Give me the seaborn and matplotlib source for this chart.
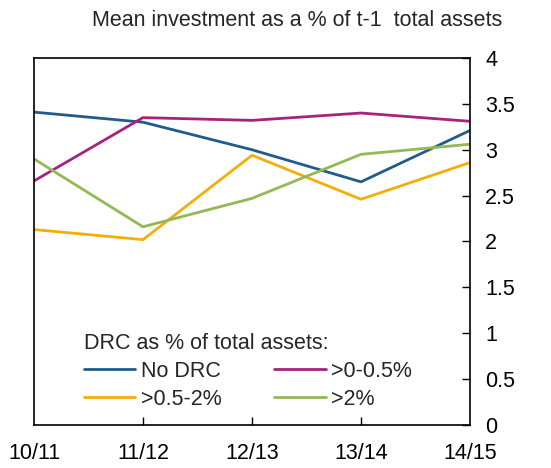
import numpy as np
import pandas as pd
import matplotlib
matplotlib.use("Agg")
import matplotlib.pyplot as plt
import seaborn as sns

# Data
years = ["10/11", "11/12", "12/13", "13/14", "14/15"]
no_drc = [3.41, 3.30, 3.00, 2.65, 3.21]
drc_0_05 = [2.66, 3.35, 3.32, 3.40, 3.31]
drc_05_2 = [2.13, 2.02, 2.94, 2.46, 2.86]
drc_2 = [2.90, 2.16, 2.47, 2.95, 3.06]

series_names = ["No DRC", ">0-0.5%", ">0.5-2%", ">2%"]
series_colors = ["#1F5C8B", "#A5237F", "#F3AE0A", "#92B954"]

frames = []
for name, vals in zip(series_names, [no_drc, drc_0_05, drc_05_2, drc_2]):
    frames.append(pd.DataFrame({"pos": np.arange(len(years)), "year": years,
                                "value": vals, "group": name}))
df = pd.concat(frames, ignore_index=True)

sns.set_style("white")
plt.rcParams["font.family"] = ["Liberation Sans", "DejaVu Sans"]
fs = 15.5

fig = plt.figure(figsize=(5.51, 4.68), dpi=100)
ax = fig.add_axes([0.0617, 0.0919, 0.7913, 0.7842])

sns.lineplot(data=df, x="pos", y="value", hue="group", hue_order=series_names,
             palette=series_colors, linewidth=2, ax=ax, legend=True)

ax.set_xlim(0, 4)
ax.set_ylim(0, 4)
ax.set_xticks(range(len(years)))
ax.set_xticklabels(years)
ax.set_yticks(np.arange(0, 4.01, 0.5))
ax.set_yticklabels(["0", "0.5", "1", "1.5", "2", "2.5", "3", "3.5", "4"])
ax.yaxis.tick_right()
ax.set_xlabel("")
ax.set_ylabel("")

for sp in ax.spines.values():
    sp.set_visible(True)
    sp.set_color("black")
    sp.set_linewidth(1.2)

ax.tick_params(axis="x", direction="in", length=6, width=1, labelsize=fs,
               pad=13, colors="black", top=False, bottom=True)
ax.tick_params(axis="y", direction="in", length=6, width=1, labelsize=fs,
               pad=11, colors="black", left=False, right=True)
# outer x ticks at the corners are not visible in the reference
xt = ax.xaxis.get_major_ticks()
xt[0].tick1line.set_visible(False)
xt[-1].tick1line.set_visible(False)

# legend filled row by row: No DRC, >0-0.5% / >0.5-2%, >2%
handles, labels = ax.get_legend_handles_labels()
order = [0, 2, 1, 3]
leg = ax.legend([handles[i] for i in order], [labels[i] for i in order],
                title="DRC as % of total assets:", ncol=2, frameon=False,
                loc="lower left", bbox_to_anchor=(0.089, 0.012),
                fontsize=fs, title_fontsize=fs, handlelength=2.4,
                handletextpad=0.25, columnspacing=2.45, labelspacing=0.32,
                borderpad=0, alignment="left")

fig.text(0.911, 0.957, "Mean investment as a % of t-1  total assets",
         ha="right", va="center", fontsize=fs)

fig.savefig("out.png", dpi=100)
